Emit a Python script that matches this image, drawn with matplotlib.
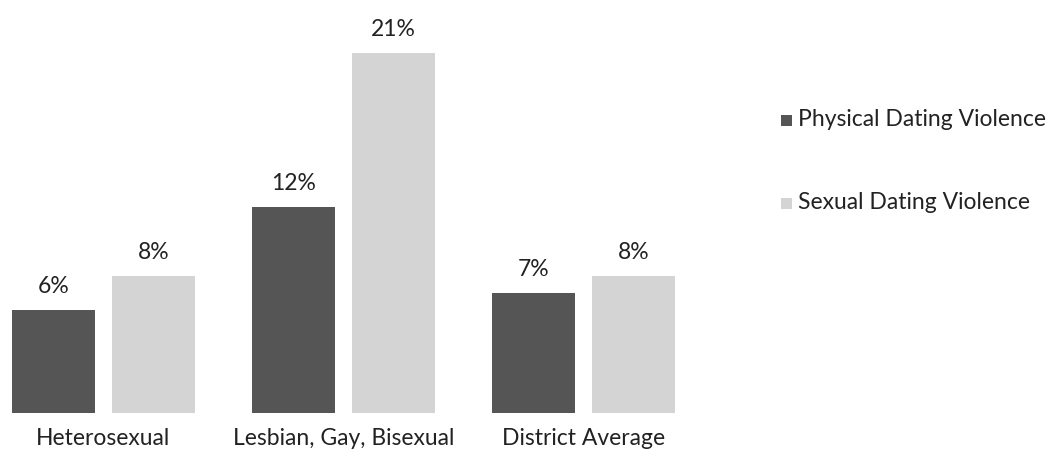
import matplotlib
matplotlib.use("Agg")
import matplotlib.pyplot as plt
from matplotlib.patches import Rectangle
import numpy as np

categories = ["Heterosexual", "Lesbian, Gay, Bisexual", "District Average"]
series_names = ["Physical Dating Violence", "Sexual Dating Violence"]
physical = [6, 12, 7]
sexual = [8, 21, 8]
colors = ["#555555", "#d4d4d4"]

plt.rcParams["font.family"] = ["Lato", "DejaVu Sans"]
FS = 16.5
W, H = 1056, 457

fig = plt.figure(figsize=(W / 100, H / 100), dpi=100)
ax = fig.add_axes([0.0, 44 / H, 687 / W, 413 / H])

x = np.arange(len(categories))
width = 0.346
offset = 0.208

for vals, dx, col in ((physical, -offset, colors[0]), (sexual, offset, colors[1])):
    bars = ax.bar(x + dx, vals, width=width, color=col)
    for b, v in zip(bars, vals):
        ax.annotate(f"{v}%", (b.get_x() + b.get_width() / 2, v),
                    xytext=(0, 13), textcoords="offset pixels",
                    ha="center", va="bottom", fontsize=FS, color="#222222")

ax.set_xlim(-0.43, 2.43)
ax.set_ylim(0, 24.1)
ax.set_xticks(x)
ax.set_xticklabels(categories, fontsize=FS, color="#222222")
ax.tick_params(axis="x", length=0, pad=11)
ax.set_yticks([])
for s in ax.spines.values():
    s.set_visible(False)

# Legend entries: a small swatch followed by the series name
legend_rows = [120, 203]
for name, col, yc in zip(series_names, colors, legend_rows):
    fig.patches.append(Rectangle((781 / W, 1 - (yc + 6) / H), 11 / W, 11 / H,
                                 transform=fig.transFigure, facecolor=col,
                                 edgecolor="none"))
    fig.text(798 / W, 1 - yc / H, name, ha="left", va="center",
             fontsize=FS, color="#222222")

fig.savefig("out.png", dpi=100)
